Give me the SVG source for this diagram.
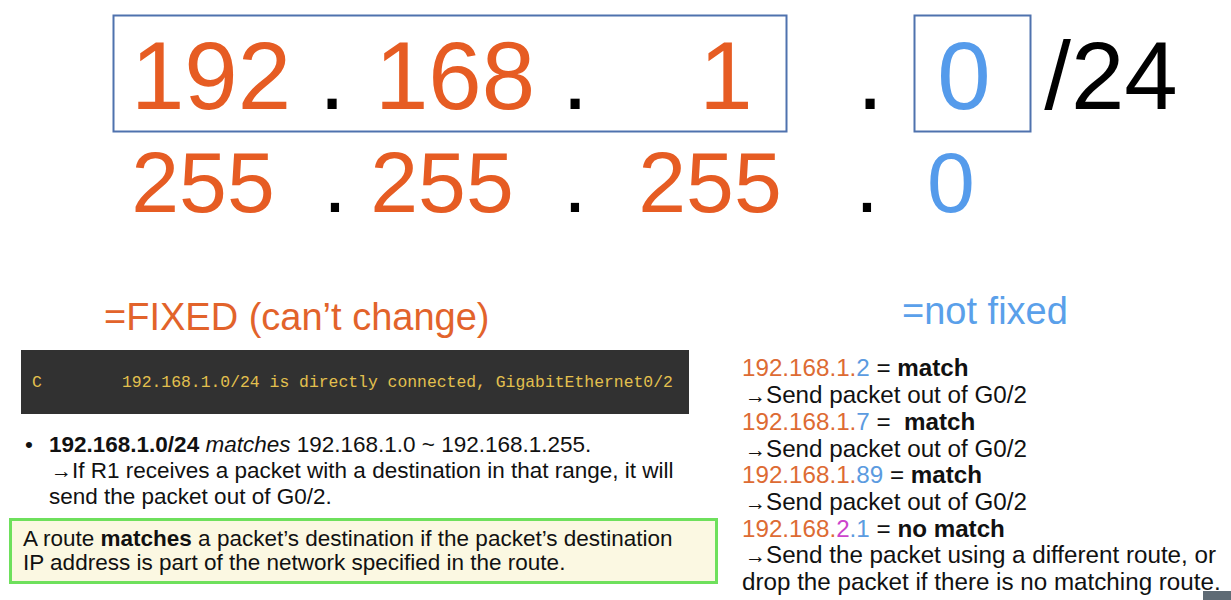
<svg xmlns="http://www.w3.org/2000/svg" width="1231" height="600" viewBox="0 0 1231 600">
<style>
text{font-family:"Liberation Sans",Arial,sans-serif}
.big{font-size:96px;text-anchor:middle}
.mid{font-size:86px;text-anchor:middle}
.or{fill:#E65C23}
.bl{fill:#559BEB}
.bk{fill:#000}
.box{fill:none;stroke:#4F72AE;stroke-width:2}
.head{font-size:38px}
.code{font-family:"Liberation Mono","DejaVu Sans Mono",monospace;font-size:16.4px;fill:#E3C04E}
.txt{font-size:22.5px;fill:#111}
.rt{font-size:24.2px;fill:#111}
.ro{fill:#DD6B33}
.rb{fill:#5B9BE0}
.rm{fill:#CC44CC}
.arr{font-size:21px}
</style>
<rect width="1231" height="600" fill="#fff"/>
<g id="ip-address">
<rect class="box" x="113.5" y="15.5" width="673" height="116"/>
<rect class="box" x="914.5" y="15.5" width="116" height="116"/>
<text class="big or" x="211" y="109">192</text>
<text class="big bk" x="332" y="109">.</text>
<text class="big or" x="455" y="109">168</text>
<text class="big bk" x="575" y="109">.</text>
<text class="big or" x="726" y="109">1</text>
<text class="big bk" x="870" y="109">.</text>
<text class="big bl" x="964" y="109">0</text>
<text class="big bk" x="1111" y="109">/24</text>
</g>
<g id="subnet-mask">
<text class="mid or" x="203" y="212">255</text>
<text class="mid bk" x="335" y="212">.</text>
<text class="mid or" x="442" y="212">255</text>
<text class="mid bk" x="575" y="212">.</text>
<text class="mid or" x="710" y="212">255</text>
<text class="mid bk" x="867" y="212">.</text>
<text class="mid bl" x="951" y="212">0</text>
</g>
<g id="fixed-label">
<text class="head" x="104" y="330" fill="#E2632B">=FIXED (can’t change)</text>
</g>
<g id="not-fixed-label">
<text class="head" x="902" y="324" fill="#5AA0EA">=not fixed</text>
</g>
<g id="route-entry">
<rect x="21" y="350" width="668" height="64" fill="#313131"/>
<text class="code" x="32" y="387">C</text>
<text class="code" x="122" y="387">192.168.1.0/24 is directly connected, GigabitEthernet0/2</text>
</g>
<g id="bullet">
<text class="txt" x="25" y="452">•</text>
<text class="txt" x="49" y="452"><tspan font-weight="bold">192.168.1.0/24</tspan> <tspan font-style="italic">matches</tspan> 192.168.1.0 ~ 192.168.1.255.</text>
<text class="txt" x="51" y="478"><tspan class="arr">→</tspan>If R1 receives a packet with a destination in that range, it will</text>
<text class="txt" x="49" y="504">send the packet out of G0/2.</text>
</g>
<g id="definition">
<rect x="10.5" y="519.5" width="706" height="63" fill="#FBF8E2" stroke="#6EE05C" stroke-width="3"/>
<text class="txt" x="23" y="546">A route <tspan font-weight="bold">matches</tspan> a packet’s destination if the packet’s destination</text>
<text class="txt" x="23" y="570">IP address is part of the network specified in the route.</text>
</g>
<g id="examples">
<text class="rt" x="742" y="376"><tspan class="ro">192.168.1.</tspan><tspan class="rb">2</tspan> = <tspan font-weight="bold">match</tspan></text>
<text class="rt" x="745" y="403"><tspan class="arr">→</tspan>Send packet out of G0/2</text>
<text class="rt" x="742" y="430" xml:space="preserve"><tspan class="ro">192.168.1.</tspan><tspan class="rb">7</tspan> =  <tspan font-weight="bold">match</tspan></text>
<text class="rt" x="745" y="456.5"><tspan class="arr">→</tspan>Send packet out of G0/2</text>
<text class="rt" x="742" y="483"><tspan class="ro">192.168.1.</tspan><tspan class="rb">89</tspan> = <tspan font-weight="bold">match</tspan></text>
<text class="rt" x="745" y="510"><tspan class="arr">→</tspan>Send packet out of G0/2</text>
<text class="rt" x="742" y="536.5"><tspan class="ro">192.168.</tspan><tspan class="rm">2</tspan><tspan class="rb">.1</tspan> = <tspan font-weight="bold">no match</tspan></text>
<text class="rt" x="745" y="563"><tspan class="arr">→</tspan>Send the packet using a different route, or</text>
<text class="rt" x="742" y="589.5">drop the packet if there is no matching route.</text>
</g>
<rect x="1203" y="591" width="28" height="9" fill="#5F6B75"/>
</svg>
